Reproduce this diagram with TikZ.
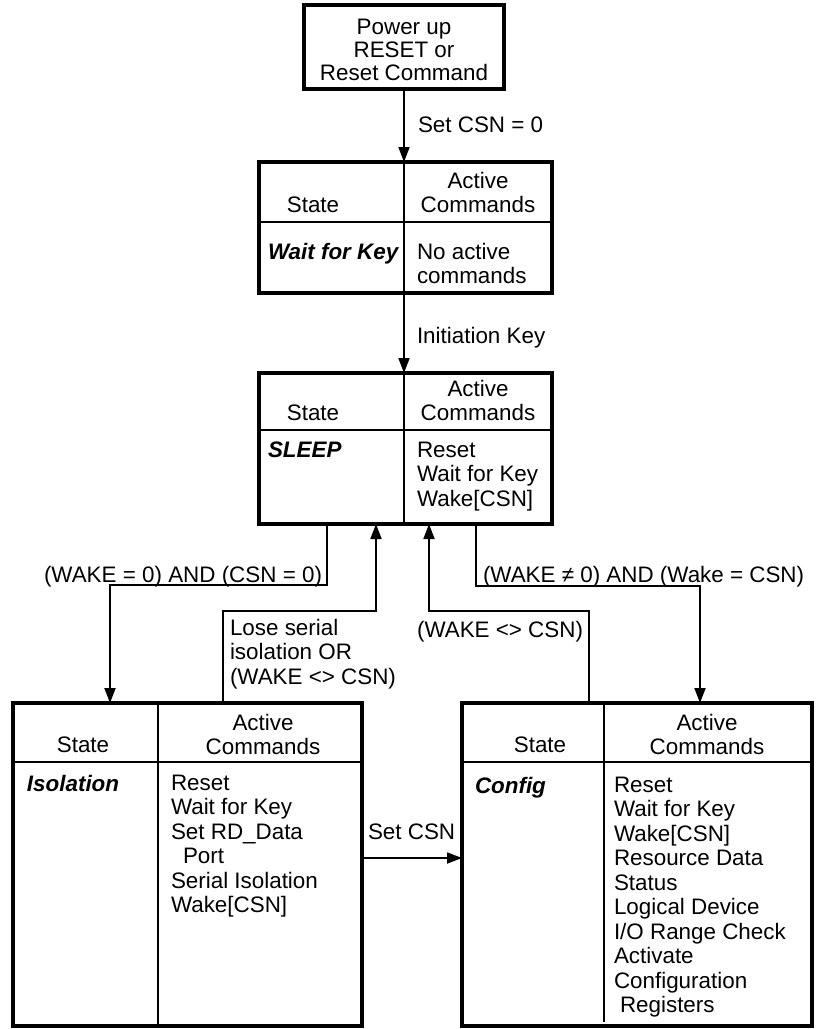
\documentclass[tikz,border=0pt]{standalone}
\usepackage{fontspec}
\setmainfont{Liberation Sans}
\usetikzlibrary{arrows.meta}
\begin{document}
\begin{tikzpicture}[x=1pt,y=-1pt,
  every node/.style={font=\fontsize{22.4}{24.5}\selectfont, inner sep=0pt, outer sep=0pt},
  frame/.style={draw, line width=4pt, rectangle, anchor=north west, inner sep=0pt},
  thinline/.style={line width=1.8pt},
  conn/.style={line width=1.8pt},
  arr/.style={conn, -{Triangle[length=15pt,width=11pt]}},
  txt/.style={anchor=north west, align=left},
  ctxt/.style={anchor=north, align=center},
  rtxt/.style={anchor=north east, align=right},
  st/.style={anchor=north west, font=\fontsize{22.4}{24.5}\selectfont\bfseries\itshape},
]
\useasboundingbox (0,0) rectangle (815,1029);

% top box
\node[frame, minimum width=200pt, minimum height=84pt] (top) at (304,5) {};
\node[ctxt, font=\fontsize{22.4}{23}\selectfont] (toptxt) at (404,19) {Power up\\RESET or\\Reset Command};

% Wait for Key box
\node[frame, minimum width=293pt, minimum height=131pt] (wfk) at (259,162) {};
\draw[thinline] (404,162) -- (404,293);
\draw[thinline] (259,222) -- (552,222);
\node[ctxt] (wfkst) at (313,197) {State};
\node[ctxt] (wfkac) at (478,172) {Active\\Commands};
\node[st] (wfkname) at (268,243) {Wait for Key};
\node[txt] (wfkcmd) at (417,243) {No active\\commands};

% SLEEP box
\node[frame, minimum width=293pt, minimum height=151pt] (sleep) at (259,373) {};
\draw[thinline] (404,373) -- (404,524);
\draw[thinline] (259,430) -- (552,430);
\node[ctxt] (slst) at (313,405) {State};
\node[ctxt] (slac) at (478,380) {Active\\Commands};
\node[st] (slname) at (268,442) {SLEEP};
\node[txt] (slcmd) at (417,442) {Reset\\Wait for Key\\Wake[CSN]};

% Isolation box
\node[frame, minimum width=349pt, minimum height=323pt] (iso) at (13,703) {};
\draw[thinline] (158,703) -- (158,1026);
\draw[thinline] (13,762) -- (360,762);
\node[ctxt] (isost) at (83,737) {State};
\node[ctxt] (isoac) at (263,714) {Active\\Commands};
\node[st] (isoname) at (27,775) {Isolation};
\node[txt] (isocmd) at (171,775) {Reset\\Wait for Key\\Set RD\_Data\\\hspace*{12pt}Port\\Serial Isolation\\Wake[CSN]};

% Config box
\node[frame, minimum width=350pt, minimum height=323pt] (cfg) at (462,703) {};
\draw[thinline] (604,703) -- (604,1022);
\draw[thinline] (462,762) -- (812,762);
\node[ctxt] (cfgst) at (540,737) {State};
\node[ctxt] (cfgac) at (707,714) {Active\\Commands};
\node[st] (cfgname) at (475,777) {Config};
\node[txt] (cfgcmd) at (614,777) {Reset\\Wait for Key\\Wake[CSN]\\Resource Data\\Status\\Logical Device\\I/O Range Check\\Activate\\Configuration\\\hspace*{6pt}Registers};

% connectors
\draw[arr] (top.south) -- (top.south |- wfk.north);
\node[txt] (l1) at (418,117) {Set CSN = 0};

\draw[arr] (wfk.south) ++(-1.5pt,0) coordinate (wfkout) -- (wfkout |- sleep.north);
\node[txt] (l2) at (417,327) {Initiation Key};

\draw[arr] ([xshift=68pt]sleep.south west) -- ++(0,61) -| ([xshift=97pt]iso.north west);
\node[rtxt] (l3) at (322,566) {(WAKE = 0) AND (CSN = 0)};

\draw[arr] ([xshift=210pt]iso.north west) -- ++(0,-92) -| ([xshift=117pt]sleep.south west);
\node[txt] (l4) at (230,619) {Lose serial\\isolation OR\\(WAKE <> CSN)};

\draw[arr] ([xshift=127pt]cfg.north west) -- ++(0,-92) -| ([xshift=170pt]sleep.south west);
\node[rtxt] (l5) at (583,621) {(WAKE <> CSN)};

\draw[arr] ([xshift=217pt]sleep.south west) -- ++(0,62) -| ([xshift=238pt]cfg.north west);
\node[txt] (l6) at (483,566) {(WAKE ≠ 0) AND (Wake = CSN)};

\draw[arr] ([yshift=-155pt]iso.north east) -- ([yshift=-155pt]cfg.north west);
\node[txt] (l7) at (368,824) {Set CSN};
\end{tikzpicture}
\end{document}
